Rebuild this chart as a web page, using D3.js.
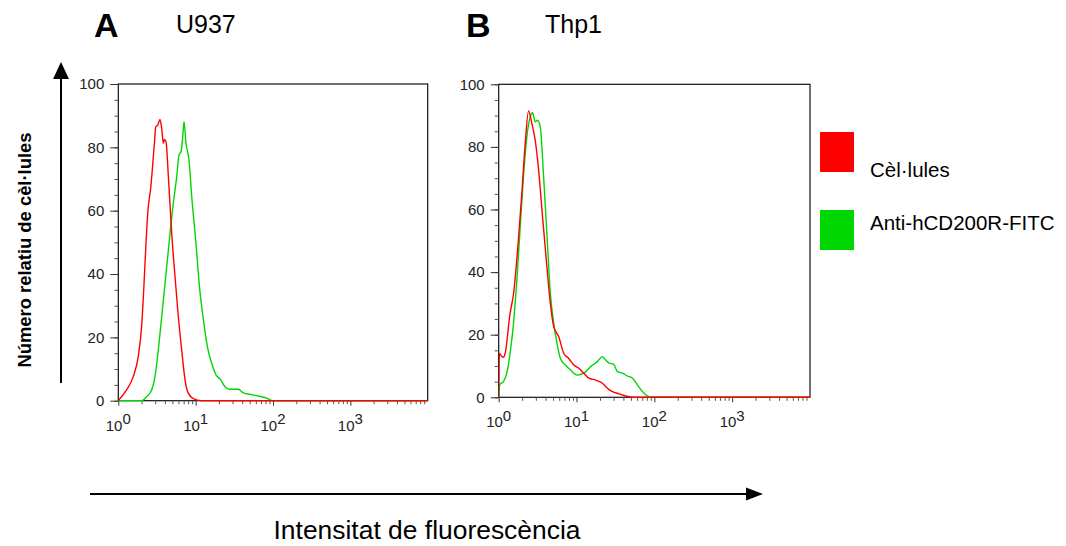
<!DOCTYPE html>
<html>
<head>
<meta charset="utf-8">
<script src="https://cdn.jsdelivr.net/npm/d3@7"></script>
<style>
  html, body { margin: 0; padding: 0; background: #fff; }
  svg { display: block; font-family: "Liberation Sans", Arial, sans-serif; }
</style>
</head>
<body>
<svg id="chart" width="1066" height="546"></svg>
<script>
// Histogram traces: [fluorescence intensity, relative cell count]
const u937Cells = [[1,0],[1.03,0.4],[1.28,3.4],[1.56,7.6],[1.81,13.9],[2.0,23.4],[2.11,32.8],[2.28,49.7],[2.42,60.2],[2.62,67],[2.93,81.3],[3.05,86.5],[3.23,87],[3.46,88.8],[3.64,86],[3.82,81.3],[3.94,82.5],[4.14,81.8],[4.44,70.7],[4.9,52.9],[5.41,39.2],[5.97,26.5],[6.6,16],[7.3,6.5],[8.05,2.3],[9.8,0.4],[12,0],[10000,0]];
const u937Anti = [[1,0],[2.0,0],[2.33,1.3],[2.7,3.4],[2.98,7.6],[3.29,16],[3.64,26.5],[4.02,37],[4.44,47.6],[5.14,62.3],[5.69,70.7],[6.1,77.6],[6.47,78.6],[6.81,83.4],[7.08,88.1],[7.5,81.3],[8.2,76],[8.9,64.4],[10.1,49.7],[11.2,36],[12.6,25.5],[14.2,17],[16.1,11.8],[18.4,8.1],[20.7,6.8],[24,4.4],[27.3,3.6],[35.7,3.6],[41.4,2.5],[50.6,2],[64.6,1.5],[83,0.8],[99,0],[10000,0]];
const thp1Cells = [[1,0],[1.02,14],[1.1,13],[1.15,12.8],[1.21,14],[1.4,26.8],[1.55,33],[1.8,51],[1.98,65],[2.19,81],[2.42,91.5],[2.67,87.4],[2.95,82],[3.26,72.6],[3.6,59.8],[4.09,43.8],[4.61,30],[5.09,22.6],[5.9,19.4],[6.86,14],[7.95,12.4],[9.24,10.3],[10.7,9.3],[12.4,7.7],[14.4,6.1],[17.6,5.5],[21.5,4.5],[24.9,2.9],[28.9,1.8],[35.3,1.1],[43,0.4],[55,0],[10000,0]];
const thp1Anti = [[1,0],[1.03,4],[1.15,5],[1.27,7.7],[1.4,14],[1.55,23.6],[1.71,37.4],[1.89,54.5],[2.08,70.4],[2.3,83.2],[2.54,89.6],[2.72,90.9],[2.95,88],[3.16,88.5],[3.42,86.4],[3.78,70.4],[4.18,51.3],[4.61,33.2],[5.09,23.6],[5.62,17.2],[6.21,12.4],[7.2,10.3],[8.36,8.7],[10.2,7.1],[12.4,7.7],[15.2,9.8],[18.5,11.4],[21.5,13],[23.7,11.9],[26.2,10.9],[29.8,10.6],[33.6,8.2],[38.9,7.7],[45.2,6.8],[52.5,6.1],[60.8,3.9],[70.6,1.8],[82,0.4],[100,0],[10000,0]];

const yTickValues = [0, 20, 40, 60, 80, 100];
const xDecades = [0, 1, 2, 3];
const legendLabels = ["Cèl·lules", "Anti-hCD200R-FITC"];
const seriesColors = ["#ff0000", "#00d600"];
const panelLetters = ["A", "B"];
const panelNames = ["U937", "Thp1"];
const yTitle = "Número relatiu de cèl·lules";
const xTitle = "Intensitat de fluorescència";

const svg = d3.select("#chart");
svg.append("rect").attr("width", 1066).attr("height", 546).attr("fill", "#fff");

const panels = [
  { left: 118.3, right: 427.7, top: 84, bottom: 400.7, cells: u937Cells, anti: u937Anti, letterX: 94, nameX: 176 },
  { left: 498.7, right: 810, top: 84.3, bottom: 397.3, cells: thp1Cells, anti: thp1Anti, letterX: 466, nameX: 545 }
];

panels.forEach((p, i) => {
  const x = d3.scaleLog().domain([1, 10000]).range([p.left, p.right]);
  const y = d3.scaleLinear().domain([0, 100]).range([p.bottom, p.top]);
  const g = svg.append("g");

  // clip region for the traces
  const clipId = "clip" + i;
  svg.append("clipPath").attr("id", clipId)
    .append("rect").attr("x", p.left).attr("y", p.top - 2)
    .attr("width", p.right - p.left).attr("height", p.bottom - p.top + 3);

  // frame
  g.append("rect")
    .attr("x", p.left).attr("y", p.top)
    .attr("width", p.right - p.left).attr("height", p.bottom - p.top)
    .attr("fill", "none").attr("stroke", "#111").attr("stroke-width", 1.2);

  // y axis: major ticks every 20, minor every 5
  const yAxis = g.append("g").attr("transform", `translate(${p.left},0)`);
  yAxis.call(d3.axisLeft(y).tickValues(d3.range(0, 101, 5)).tickSize(4).tickFormat(""))
    .call(a => a.select(".domain").remove())
    .call(a => a.selectAll("line").attr("stroke", "#555"));
  yAxis.append("g")
    .call(d3.axisLeft(y).tickValues(yTickValues).tickSize(8).tickPadding(6).tickFormat(d3.format("d")))
    .call(a => a.select(".domain").remove())
    .call(a => a.selectAll("line").attr("stroke", "#333"))
    .call(a => a.selectAll("text").style("font-size", "15px").attr("fill", "#222")
      .attr("font-family", "'Liberation Sans', Arial, sans-serif"));

  // x axis: log ticks
  const minor = [];
  for (let d = 0; d < 4; d++) for (let k = 2; k <= 9; k++) minor.push(k * Math.pow(10, d));
  const xAxis = g.append("g").attr("transform", `translate(0,${p.bottom})`);
  xAxis.call(d3.axisBottom(x).tickValues(minor).tickSize(3.5).tickFormat(""))
    .call(a => a.select(".domain").remove())
    .call(a => a.selectAll("line").attr("stroke", "#555"));
  xAxis.append("g")
    .call(d3.axisBottom(x).tickValues(xDecades.map(d => Math.pow(10, d))).tickSize(5).tickFormat(""))
    .call(a => a.select(".domain").remove())
    .call(a => a.selectAll("line").attr("stroke", "#333"));

  const xl = g.append("g").selectAll("text").data(xDecades).join("text")
    .attr("x", d => x(Math.pow(10, d)))
    .attr("y", p.bottom + 30)
    .attr("text-anchor", "middle")
    .style("font-size", "15px").attr("fill", "#222");
  xl.append("tspan").text("10");
  xl.append("tspan").attr("dy", -6.5).text(d => d);

  // traces
  const line = d3.line().x(d => x(d[0])).y(d => y(d[1])).curve(d3.curveMonotoneX);
  const traces = g.append("g").attr("clip-path", `url(#${clipId})`);
  [p.anti, p.cells].forEach((s, j) => {
    traces.append("path").datum(s)
      .attr("d", line).attr("fill", "none")
      .attr("stroke", seriesColors[1 - j]).attr("stroke-width", 1.4)
      .attr("stroke-linejoin", "round");
  });

  // panel titles
  svg.append("text").attr("x", p.letterX).attr("y", 37)
    .attr("font-size", 34).attr("font-weight", "bold").attr("fill", "#000").text(panelLetters[i]);
  svg.append("text").attr("x", p.nameX).attr("y", 33)
    .attr("font-size", 25).attr("fill", "#000").text(panelNames[i]);
});

// legend
const legend = svg.append("g");
legendLabels.forEach((lab, i) => {
  const top = i === 0 ? 132 : 210;
  legend.append("rect").attr("x", 820).attr("y", top).attr("width", 34).attr("height", 40)
    .attr("fill", seriesColors[i]);
  legend.append("text").attr("x", 870).attr("y", i === 0 ? 177 : 230)
    .attr("font-size", 20.5).attr("fill", "#000").text(lab);
});

// arrows
svg.append("path").attr("d", "M61,383V76").attr("stroke", "#000").attr("stroke-width", 2);
svg.append("path").attr("d", "M61,62L53,79L69,79Z").attr("fill", "#000");
svg.append("path").attr("d", "M90,494H749").attr("stroke", "#000").attr("stroke-width", 2);
svg.append("path").attr("d", "M763,494L746,487.5L746,500.5Z").attr("fill", "#000");

// axis titles
svg.append("text")
  .attr("transform", "translate(31,250) rotate(-90)")
  .attr("text-anchor", "middle")
  .attr("font-size", 18).attr("font-weight", "bold")
  .attr("textLength", 235).attr("lengthAdjust", "spacingAndGlyphs")
  .text(yTitle);
svg.append("text")
  .attr("x", 427).attr("y", 539)
  .attr("text-anchor", "middle")
  .attr("font-size", 25).attr("fill", "#000")
  .attr("textLength", 307).attr("lengthAdjust", "spacingAndGlyphs")
  .text(xTitle);
</script>
</body>
</html>
